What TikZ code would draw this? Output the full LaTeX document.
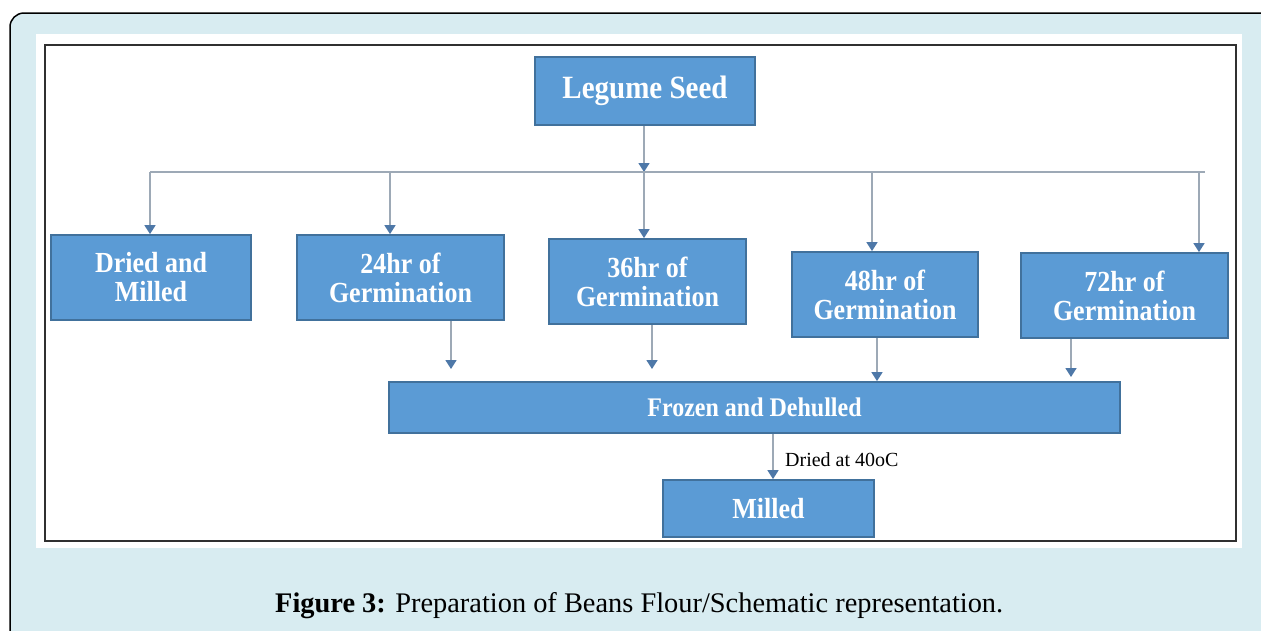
\documentclass[tikz,border=0pt]{standalone}
\usepackage{fontspec}
\setmainfont{Liberation Serif}
\usetikzlibrary{arrows.meta}
\definecolor{pageblue}{HTML}{D8ECF1}
\definecolor{boxfill}{HTML}{5B9BD5}
\definecolor{boxedge}{HTML}{41719C}
\definecolor{stem}{HTML}{9DA9B6}
\definecolor{tipcol}{HTML}{4E78A8}
\definecolor{framecol}{HTML}{303030}
\tikzset{
  procbox/.style={draw=boxedge, line width=1.8pt, fill=boxfill, text=white,
    font=\fontsize{26}{29}\selectfont\bfseries, align=center, inner sep=0pt},
  arr/.style={draw=stem, line width=1.6pt,
    -{Triangle[width=11pt,length=9pt,fill=tipcol,color=tipcol]}},
  plain/.style={draw=stem, line width=1.6pt},
  note/.style={font=\fontsize{20}{22}\selectfont, text=black, inner sep=0pt, anchor=west}
}
\begin{document}
\begin{tikzpicture}[x=1pt,y=-1pt]
\useasboundingbox (0,0) rectangle (1261,630);
\begin{scope}
\clip (0,0) rectangle (1261,630);
\draw[fill=pageblue, draw=black, line width=1.5pt, rounded corners=14pt] (10,13) rectangle (1300,680);
\end{scope}
\fill[white] (36,34) rectangle (1242,548);
\draw[framecol, line width=2pt] (45,45) rectangle (1236,541);

\node[procbox, minimum width=220pt, minimum height=68pt] (legume) at (645,91)
  {\fontsize{29}{32}\selectfont\scalebox{1}[1.12]{Legume Seed}};
\node[procbox, minimum width=200pt, minimum height=85pt] (dried) at (151,277.5)
  {\scalebox{1}[1.12]{Dried and}\\\scalebox{1}[1.12]{Milled}};
\node[procbox, minimum width=207pt, minimum height=85pt] (g24) at (400.5,277.5)
  {\scalebox{1}[1.12]{24hr of}\\\scalebox{1}[1.12]{Germination}};
\node[procbox, minimum width=197pt, minimum height=85pt] (g36) at (647.5,281.5)
  {\scalebox{1}[1.12]{36hr of}\\\scalebox{1}[1.12]{Germination}};
\node[procbox, minimum width=186pt, minimum height=85pt] (g48) at (885,294.5)
  {\scalebox{1}[1.12]{48hr of}\\\scalebox{1}[1.12]{Germination}};
\node[procbox, minimum width=207pt, minimum height=85pt] (g72) at (1124.5,295.5)
  {\scalebox{1}[1.12]{72hr of}\\\scalebox{1}[1.12]{Germination}};
\node[procbox, minimum width=731pt, minimum height=51pt] (frozen) at (754.5,407.5)
  {\fontsize{24}{26}\selectfont\scalebox{1}[1.12]{Frozen and Dehulled}};
\node[procbox, minimum width=211pt, minimum height=57pt] (milled) at (768.5,508.5)
  {\scalebox{1}[1.12]{Milled}};

% distribution bus
\coordinate (hub) at (644,172);
\coordinate (busL) at (150,172);
\coordinate (busR) at (1205,172);
\coordinate (b24) at (390,172);
\coordinate (b48) at (872,172);
\coordinate (b72) at (1199,172);
\draw[arr] (legume.south -| hub) -- (hub);
\draw[plain] (busL) -- (busR);
\draw[arr] (busL) -- (busL |- dried.north);
\draw[arr] (b24) -- (b24 |- g24.north);
\draw[arr] (hub) -- (hub |- g36.north);
\draw[arr] (b48) -- (b48 |- g48.north);
\draw[arr] (b72) -- (b72 |- g72.north);

% to frozen
\coordinate (t24) at (451,369);
\coordinate (t36) at (652,369);
\coordinate (t48) at (877,382);
\coordinate (t72) at (1071,377);
\draw[arr] (t24 |- g24.south) -- (t24);
\draw[arr] (t36 |- g36.south) -- (t36);
\draw[arr] (t48 |- g48.south) -- (t48 |- frozen.north);
\draw[arr] (t72 |- g72.south) -- (t72);

% to milled
\coordinate (mx) at (773,450);
\draw[arr] (mx |- frozen.south) -- (mx |- milled.north);
\node[note] (lbl) at (785,460) {Dried at 40oC};

\node[inner sep=0pt, anchor=base west] (cap) at (275,612)
  {\resizebox{728pt}{!}{\fontsize{26}{28}\selectfont\textbf{Figure 3:} Preparation of Beans Flour/Schematic representation.}};
\end{tikzpicture}
\end{document}
